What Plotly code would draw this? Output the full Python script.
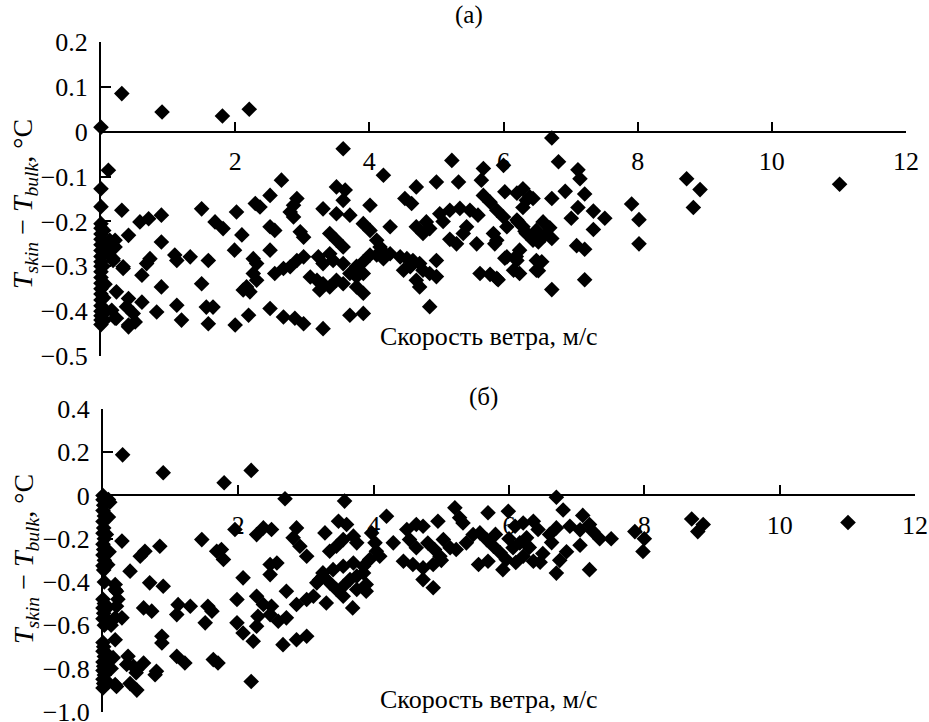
import plotly.graph_objects as go

# ---------------- data ----------------
# Panel (а): wind speed (m/s) and T_skin - T_bulk (°C)
top_wind = (
    [0.0, 0.31, 0.91, 1.81, 2.21]
    + [0.0, 0.0, 0.0, 0.0, 0.0, 0.0, 0.0, 0.0, 0.0, 0.0, 0.0, 0.0, 0.0, 0.0, 0.0, 0.0, 0.0, 0.0, 0.0, 0.0, 0.0, 0.0]
    + [0.04, 0.05, 0.03, 0.06, 0.04, 0.07, 0.05]
    + [0.11, 0.13, 0.21, 0.11, 0.18, 0.33, 0.21, 0.18, 0.33, 0.23, 0.21, 0.41, 0.31, 0.41, 0.16, 0.23, 0.41, 0.38, 0.48, 0.41, 0.51]
    + [0.58, 0.71, 0.90, 0.90, 0.73, 0.68, 0.61, 0.90, 0.61, 0.83, 1.10, 1.13, 1.33, 1.13, 1.20, 1.50, 1.50]
    + [1.60, 1.70, 1.82, 1.57, 1.67, 1.60, 2.02, 2.30, 2.37, 2.10, 1.99, 2.27, 2.32, 2.27, 2.32, 2.17, 2.22, 2.12, 2.00, 2.20]
    + [2.69, 2.52, 2.92, 2.87, 2.82, 2.87, 2.52, 2.59, 2.97, 3.02, 2.52, 2.92, 2.82, 3.02, 3.24, 3.31, 3.31, 3.41, 3.41, 3.46,
       2.59, 2.72, 3.12, 3.22, 3.31, 3.41, 3.26, 2.52, 2.72, 2.89, 3.02, 3.31]
    + [3.61, 3.51, 3.64, 3.61, 3.51, 3.71, 3.51, 3.61, 3.61, 3.81, 3.91, 4.01, 4.11, 4.21, 3.91, 3.81, 3.71, 3.51, 3.61, 3.81,
       3.91, 3.71, 3.91, 4.21, 4.01, 3.91, 4.01, 4.31, 4.11, 4.16, 4.21, 4.31, 4.46, 4.51, 4.53]
    + [4.63, 4.70, 4.56, 4.65, 4.75, 4.61, 4.80, 4.90, 5.00, 5.00, 4.70, 4.75, 4.90, 4.70, 4.80, 4.85, 4.90, 5.05, 5.20, 5.00,
       5.23, 5.33, 5.35, 5.50, 5.30, 5.40, 5.45, 5.10, 5.20]
    + [5.70, 5.67, 6.00, 5.62, 5.70, 5.80, 5.90, 6.00, 6.02, 6.29, 6.39, 6.20, 6.29, 6.49, 5.60, 5.85, 5.90, 6.05, 6.34, 6.44,
       5.65, 5.90, 6.05, 6.20, 6.24, 6.15, 6.24, 6.49, 6.49, 6.20, 6.34, 6.44, 6.29, 6.22, 6.32, 5.87, 6.02, 6.19, 5.80, 5.92]
    + [6.72, 6.82, 7.11, 7.14, 6.92, 7.21, 6.72, 7.11, 7.01, 7.34, 7.51, 7.34, 7.91, 8.02, 8.02, 8.73, 8.93, 8.83, 11.01, 6.59,
       6.69, 6.62, 6.72, 6.52, 6.57, 6.52, 7.09, 7.21, 6.72, 7.21]
)
top_dT = (
    [0.01, 0.085, 0.044, 0.035, 0.05]
    + [-0.127, -0.167, -0.205, -0.215, -0.228, -0.24, -0.252, -0.265, -0.278, -0.29, -0.30, -0.312, -0.325, -0.338, -0.35,
       -0.362, -0.375, -0.388, -0.40, -0.41, -0.42, -0.43]
    + [-0.22, -0.26, -0.30, -0.34, -0.37, -0.40, -0.42]
    + [-0.086, -0.242, -0.257, -0.264, -0.287, -0.301, -0.242, -0.283, -0.305, -0.357, -0.416, -0.435, -0.175, -0.231, -0.398,
       -0.416, -0.372, -0.39, -0.405, -0.431, -0.424]
    + [-0.201, -0.194, -0.186, -0.246, -0.283, -0.294, -0.32, -0.346, -0.38, -0.402, -0.275, -0.287, -0.279, -0.387, -0.42,
       -0.172, -0.339]
    + [-0.287, -0.201, -0.216, -0.391, -0.391, -0.428, -0.179, -0.160, -0.168, -0.23, -0.264, -0.283, -0.294, -0.316, -0.331,
       -0.346, -0.357, -0.353, -0.431, -0.409]
    + [-0.108, -0.142, -0.149, -0.164, -0.179, -0.19, -0.212, -0.22, -0.223, -0.235, -0.264, -0.287, -0.301, -0.279, -0.279,
       -0.294, -0.172, -0.227, -0.272, -0.287, -0.316, -0.305, -0.324, -0.331, -0.339, -0.346, -0.353, -0.394, -0.413, -0.416,
       -0.428, -0.439]
    + [-0.038, -0.123, -0.13, -0.153, -0.183, -0.186, -0.242, -0.257, -0.294, -0.30, -0.29, -0.275, -0.275, -0.283, -0.316,
       -0.323, -0.316, -0.331, -0.339, -0.346, -0.36, -0.409, -0.405, -0.097, -0.164, -0.205, -0.22, -0.212, -0.242, -0.257,
       -0.268, -0.272, -0.279, -0.309, -0.149]
    + [-0.16, -0.123, -0.283, -0.287, -0.294, -0.301, -0.309, -0.316, -0.323, -0.287, -0.331, -0.346, -0.39, -0.212, -0.227,
       -0.201, -0.216, -0.183, -0.175, -0.112, -0.064, -0.112, -0.171, -0.175, -0.25, -0.227, -0.212, -0.20, -0.24]
    + [-0.082, -0.108, -0.075, -0.186, -0.142, -0.157, -0.175, -0.19, -0.134, -0.127, -0.145, -0.197, -0.212, -0.22, -0.25,
       -0.227, -0.242, -0.212, -0.227, -0.242, -0.316, -0.327, -0.279, -0.287, -0.264, -0.309, -0.316, -0.309, -0.287, -0.137,
       -0.153, -0.149, -0.169, -0.201, -0.222, -0.25, -0.282, -0.278, -0.318, -0.33]
    + [-0.014, -0.067, -0.085, -0.105, -0.133, -0.139, -0.149, -0.169, -0.193, -0.177, -0.193, -0.218, -0.161, -0.196, -0.25,
       -0.105, -0.129, -0.169, -0.117, -0.201, -0.214, -0.23, -0.238, -0.246, -0.29, -0.31, -0.254, -0.262, -0.352, -0.33]
)

# Panel (б)
bot_wind = (
    [0.0, 0.29, 0.89, 1.79, 2.19, 0.10, 0.08, 2.69]
    + [0.0, 0.01, 0.0, 0.02, 0.0, 0.01, 0.0, 0.02, 0.0, 0.01, 0.0, 0.02, 0.0, 0.01, 0.0, 0.02, 0.0, 0.01, 0.0, 0.02,
       0.0, 0.01, 0.0, 0.02, 0.0, 0.01, 0.0, 0.02, 0.0, 0.01, 0.0, 0.02]
    + [0.06, 0.08, 0.05, 0.09, 0.07, 0.06, 0.08, 0.05, 0.09, 0.06]
    + [0.18, 0.18, 0.20, 0.20, 0.28, 0.18, 0.18, 0.37, 0.35, 0.50, 0.50, 0.40, 0.18, 0.20, 0.49, 0.12, 0.28, 0.40, 0.22, 0.12, 0.15]
    + [0.84, 0.62, 0.55, 0.69, 0.89, 0.60, 0.72, 1.11, 1.09, 1.29, 0.87, 0.87, 0.60, 0.45, 0.79, 0.77, 1.09, 1.21, 1.46, 1.51]
    + [1.68, 1.78, 1.75, 1.55, 1.61, 1.63, 1.70, 1.95, 2.27, 2.37, 2.49, 2.07, 2.47, 2.57, 2.47, 1.98, 2.27, 2.37, 2.49, 2.29,
       2.27, 2.47, 1.98, 2.07, 2.22, 2.19]
    + [2.86, 2.81, 2.91, 3.01, 3.28, 3.35, 3.45, 2.71, 2.59, 2.71, 2.86, 3.01, 3.11, 2.66, 2.86, 3.01, 3.25, 3.35, 3.45, 3.30, 3.20]
    + [3.57, 3.48, 3.60, 3.55, 3.70, 3.75, 3.97, 4.02, 4.04, 4.09, 4.19, 4.29, 4.49, 4.53, 3.55, 3.65, 3.75, 3.85, 3.69, 3.89,
       4.44, 3.16, 3.25, 3.40, 3.55, 3.70, 3.85, 3.94, 3.55, 3.75, 3.89]
    + [4.63, 4.73, 4.63, 4.58, 4.73, 4.88, 4.98, 4.73, 4.88, 5.03, 5.13, 5.22, 5.37, 5.47, 5.20, 5.27, 5.32, 4.95, 4.80, 5.00, 4.90]
    + [5.69, 5.99, 5.57, 5.67, 5.77, 5.87, 5.96, 5.55, 5.69, 5.91, 6.06, 6.16, 6.26, 6.21, 6.36, 6.09, 6.21, 6.36, 6.43, 6.50,
       6.46, 6.00, 6.10, 5.80, 6.30]
    + [6.70, 6.80, 7.09, 7.19, 7.05, 7.24, 7.34, 7.51, 6.90, 6.70, 6.63, 6.70, 7.05, 7.19, 7.86, 8.00, 7.98, 8.70, 8.87, 8.79,
       11.01, 6.60, 6.85, 6.75]
)
bot_dT = (
    [0.0, 0.188, 0.105, 0.059, 0.116, -0.031, -0.019, -0.015]
    + [-0.02, -0.045, -0.07, -0.095, -0.12, -0.15, -0.175, -0.2, -0.225, -0.25, -0.275, -0.3, -0.325, -0.345, -0.48, -0.5,
       -0.52, -0.545, -0.57, -0.6, -0.68, -0.7, -0.72, -0.745, -0.77, -0.79, -0.81, -0.83, -0.85, -0.87, -0.89, -0.4]
    + [-0.03, -0.1, -0.18, -0.26, -0.32, -0.52, -0.58, -0.73, -0.8, -0.86]
    + [-0.412, -0.435, -0.443, -0.512, -0.566, -0.566, -0.667, -0.744, -0.782, -0.806, -0.9, -0.87, -0.875, -0.883, -0.82,
       -0.80, -0.211, -0.35, -0.48, -0.6, -0.75]
    + [-0.235, -0.258, -0.281, -0.404, -0.42, -0.52, -0.535, -0.505, -0.551, -0.512, -0.651, -0.682, -0.775, -0.79, -0.813,
       -0.829, -0.744, -0.775, -0.204, -0.589]
    + [-0.258, -0.296, -0.25, -0.512, -0.535, -0.759, -0.775, -0.157, -0.181, -0.15, -0.157, -0.381, -0.319, -0.312, -0.366,
       -0.481, -0.466, -0.504, -0.512, -0.559, -0.605, -0.551, -0.589, -0.636, -0.674, -0.86]
    + [-0.15, -0.196, -0.235, -0.281, -0.173, -0.258, -0.235, -0.443, -0.582, -0.566, -0.504, -0.481, -0.466, -0.69, -0.667,
       -0.651, -0.373, -0.404, -0.435, -0.497, -0.39]
    + [-0.026, -0.119, -0.134, -0.204, -0.188, -0.219, -0.173, -0.219, -0.258, -0.281, -0.096, -0.219, -0.157, -0.204, -0.42,
       -0.389, -0.373, -0.358, -0.52, -0.443, -0.304, -0.404, -0.358, -0.343, -0.327, -0.312, -0.327, -0.296, -0.466, -0.435,
       -0.412]
    + [-0.134, -0.142, -0.242, -0.319, -0.335, -0.319, -0.281, -0.389, -0.427, -0.204, -0.242, -0.25, -0.219, -0.181, -0.057,
       -0.103, -0.127, -0.119, -0.22, -0.30, -0.25]
    + [-0.08, -0.073, -0.173, -0.204, -0.235, -0.265, -0.296, -0.319, -0.304, -0.343, -0.242, -0.219, -0.196, -0.281, -0.304,
       -0.142, -0.127, -0.119, -0.157, -0.268, -0.309, -0.20, -0.31, -0.18, -0.24]
    + [-0.008, -0.067, -0.092, -0.134, -0.159, -0.167, -0.2, -0.2, -0.142, -0.15, -0.218, -0.359, -0.23, -0.343, -0.167, -0.2,
       -0.259, -0.109, -0.134, -0.167, -0.125, -0.18, -0.26, -0.30]
)

top_yrange = [-0.5, 0.2]
top_yticks = [0.2, 0.1, 0.0, -0.1, -0.2, -0.3, -0.4, -0.5]
top_ytext = ["0.2", "0.1", "0", "\u22120.1", "\u22120.2", "\u22120.3", "\u22120.4", "\u22120.5"]
bot_yrange = [-1.0, 0.4]
bot_yticks = [0.4, 0.2, 0.0, -0.2, -0.4, -0.6, -0.8, -1.0]
bot_ytext = ["0.4", "0.2", "0", "\u22120.2", "\u22120.4", "\u22120.6", "\u22120.8", "\u22121.0"]
x_range = [0, 12]
x_ticks = [2, 4, 6, 8, 10, 12]
x_text = ["2", "4", "6", "8", "10", "12"]

panel_labels = ["(\u0430)", "(\u0431)"]
x_title = "Скорость ветра, м/с"
y_title = "<i>T</i><sub><i>skin</i></sub> \u2212 <i>T</i><sub><i>bulk</i></sub>, °C"

assert len(top_wind) == len(top_dT)
assert len(bot_wind) == len(bot_dT)

# ---------------- layout ----------------
W, H = 929, 722
FONT = "Liberation Serif"

top_xdom = [101 / W, 906 / W]
top_ydom = [1 - 356 / H, 1 - 42 / H]
bot_xdom = [103 / W, 915 / W]
bot_ydom = [1 - 711.7 / H, 1 - 409 / H]


def zero_pos(dom, rng):
    return dom[0] + (0 - rng[0]) / (rng[1] - rng[0]) * (dom[1] - dom[0])


marker = dict(symbol="diamond", size=12, color="black", line=dict(width=0))

fig = go.Figure()
fig.add_trace(go.Scatter(x=top_wind, y=top_dT, mode="markers", marker=marker,
                         cliponaxis=False, xaxis="x", yaxis="y", showlegend=False))
fig.add_trace(go.Scatter(x=bot_wind, y=bot_dT, mode="markers", marker=marker,
                         cliponaxis=False, xaxis="x2", yaxis="y2", showlegend=False))

tickfont = dict(family=FONT, size=26, color="black")


def xaxis(dom, pos):
    return dict(domain=dom, range=x_range, anchor="free", position=pos,
                showline=True, linecolor="black", linewidth=2,
                ticks="inside", ticklen=9, tickwidth=2, tickcolor="black",
                tickvals=x_ticks, ticktext=x_text, tickfont=tickfont,
                ticklabelstandoff=6, automargin=False, ticklabeloverflow="allow",
                showgrid=False, zeroline=False, fixedrange=True)


def yaxis(dom, rng, vals, text, anchor):
    return dict(domain=dom, range=rng, anchor=anchor,
                showline=True, linecolor="black", linewidth=2,
                ticks="inside", ticklen=10, tickwidth=2, tickcolor="black",
                tickvals=vals, ticktext=text, tickfont=tickfont,
                ticklabelstandoff=6, automargin=False, ticklabeloverflow="allow",
                showgrid=False, zeroline=False, fixedrange=True)


annots = []
for txt, px, py in [(panel_labels[0], 469, 15), (panel_labels[1], 483, 397)]:
    annots.append(dict(text=txt, x=px / W, y=1 - py / H, xref="paper", yref="paper",
                       showarrow=False, font=dict(family=FONT, size=25, color="black"),
                       xanchor="center", yanchor="middle"))
for py in [336, 699]:
    annots.append(dict(text=x_title, x=489 / W, y=1 - py / H, xref="paper", yref="paper",
                       showarrow=False, font=dict(family=FONT, size=26, color="black"),
                       xanchor="center", yanchor="middle"))
for py in [204, 559]:
    annots.append(dict(text=y_title, x=25 / W, y=1 - py / H, xref="paper", yref="paper",
                       showarrow=False, textangle=-90,
                       font=dict(family=FONT, size=28, color="black"),
                       xanchor="center", yanchor="middle"))

fig.update_layout(
    width=W, height=H,
    margin=dict(l=0, r=0, t=0, b=0, pad=0, autoexpand=False),
    paper_bgcolor="white", plot_bgcolor="white",
    xaxis=xaxis(top_xdom, zero_pos(top_ydom, top_yrange)),
    yaxis=yaxis(top_ydom, top_yrange, top_yticks, top_ytext, "x"),
    xaxis2=xaxis(bot_xdom, zero_pos(bot_ydom, bot_yrange)),
    yaxis2=yaxis(bot_ydom, bot_yrange, bot_yticks, bot_ytext, "x2"),
    annotations=annots,
    showlegend=False,
)

fig.write_html("out.html")
